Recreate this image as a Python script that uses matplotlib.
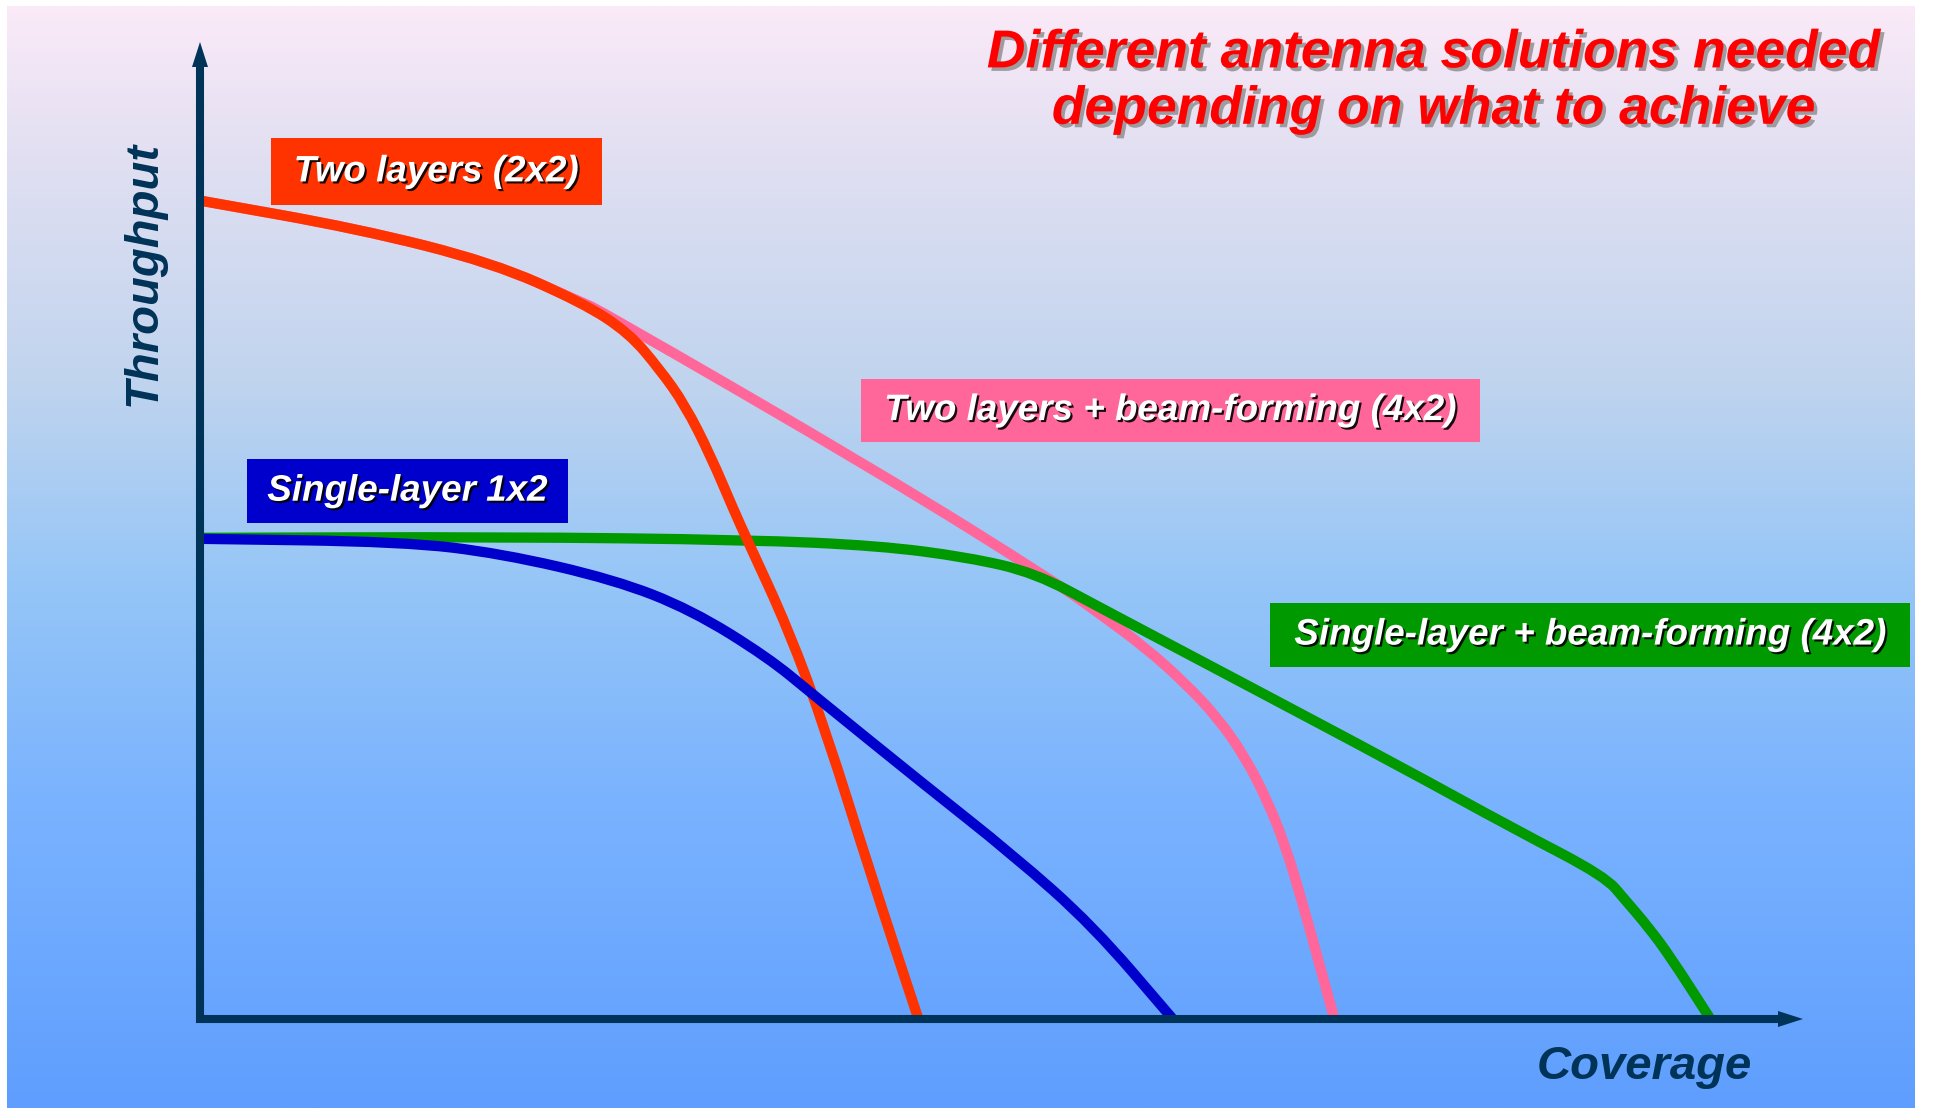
import numpy as np
import matplotlib
matplotlib.use("Agg")
import matplotlib.pyplot as plt
import matplotlib.patheffects as pe
from matplotlib.path import Path
from matplotlib.patches import PathPatch, Rectangle
from matplotlib.colors import to_rgb

# ---- data (coverage 0-100, throughput 0-100) ----
cov_two_layers = [0, 9.9, 18.3, 23.9, 26.8, 28.75, 30.3, 31.9, 33.4, 34.2, 36.8, 39.1, 41.9, 44.9]
thr_two_layers = [84.2, 81.3, 77.8, 73.7, 70.6, 66.8, 63.2, 58.0, 52.2, 49.3, 40.0, 29.7, 15.0, 0]

cov_two_layers_bf = [0, 9.9, 18.3, 23.9, 25.0, 42.5, 53.6, 56.3, 59.1, 61.6, 63.6, 65.3, 66.7, 67.8, 68.9, 69.9, 70.9]
thr_two_layers_bf = [84.2, 81.3, 77.8, 73.7, 72.9, 56.2, 44.8, 41.6, 38.2, 34.5, 31.0, 27.0, 22.5, 18.0, 12.0, 6.0, 0]

cov_single = [0, 12.7, 18.8, 25.9, 30.7, 35.5, 38.3, 45.2, 50.8, 55.8, 60.8]
thr_single = [49.4, 49.1, 47.9, 45.2, 42.1, 37.2, 33.4, 24.2, 16.9, 9.6, 0]

cov_single_bf = [0, 18.8, 34.3, 42.4, 48.0, 52.2, 56.4, 64.8, 75.0, 82.2, 87.8, 89.1, 90.5, 91.9, 94.4]
thr_single_bf = [49.5, 49.6, 49.3, 48.7, 47.5, 45.9, 42.2, 34.9, 26.0, 19.5, 14.7, 12.2, 9.5, 6.4, 0]

series_labels = ["Two layers (2x2)", "Two layers + beam-forming (4x2)",
                 "Single-layer 1x2", "Single-layer + beam-forming (4x2)"]
series_colors = ["#FF3300", "#FF6699", "#0000CC", "#009900"]

title_lines = ["Different antenna solutions needed", "depending on what to achieve"]

NAVY = "#003358"
FONT = "Liberation Sans"

# pixel scale of one data unit (figure is 1935x1108 px, origin at px (200, 1019))
PX_X, PX_Y = 16.0, 9.72
X0, Y0 = 200, 1019


def smooth_path(xs, ys):
    pts = np.column_stack([xs, ys]).astype(float)
    verts = [pts[0], (pts[0] + pts[1]) / 2]
    codes = [Path.MOVETO, Path.LINETO]
    for i in range(1, len(pts) - 1):
        verts += [pts[i], (pts[i] + pts[i + 1]) / 2]
        codes += [Path.CURVE3, Path.CURVE3]
    verts.append(pts[-1])
    codes.append(Path.LINETO)
    return Path(verts, codes)


fig = plt.figure(figsize=(19.35, 11.08), dpi=100, facecolor="white")
ax = fig.add_axes([0, 0, 1, 1])
ax.set_xlim(-X0 / PX_X, (1935 - X0) / PX_X)
ax.set_ylim((Y0 - 1108) / PX_Y, Y0 / PX_Y)
ax.axis("off")

# background gradient
stops_pos = [0.0, 0.13, 0.34, 0.52, 0.72, 1.0]
stops_col = ["#FBEAF8", "#E2E0F2", "#C0D4EE", "#96C6F7", "#7AB3FE", "#5F9EFF"]
t = np.linspace(0, 1, 400)
rgb = np.array([to_rgb(c) for c in stops_col])
grad = np.stack([np.interp(t, stops_pos, rgb[:, k]) for k in range(3)], axis=1)[:, None, :]
ax.imshow(grad, extent=[(7 - X0) / PX_X, (1915 - X0) / PX_X, (Y0 - 1108) / PX_Y, (Y0 - 6) / PX_Y],
          aspect="auto", zorder=0, interpolation="bilinear")

# curves
curves = [(cov_two_layers_bf, thr_two_layers_bf, series_colors[1], 2),
          (cov_single_bf, thr_single_bf, series_colors[3], 3),
          (cov_two_layers, thr_two_layers, series_colors[0], 4),
          (cov_single, thr_single, series_colors[2], 5)]
for xs, ys, col, z in curves:
    ax.add_patch(PathPatch(smooth_path(xs, ys), fill=False, edgecolor=col, lw=7.4,
                           capstyle="butt", joinstyle="round", zorder=z))

# axes with arrows
y_top = (Y0 - 67) / PX_Y
x_right = (1778 - X0) / PX_X
ax.plot([0, 0, x_right], [y_top, 0, 0], color=NAVY, lw=5.8,
        solid_joinstyle="miter", solid_capstyle="butt", zorder=10)
ax.fill([-8 / PX_X, 8 / PX_X, 0], [y_top, y_top, (Y0 - 42) / PX_Y], color=NAVY, zorder=10, lw=0)
ax.fill([x_right, x_right, (1803 - X0) / PX_X], [8 / PX_Y, -8 / PX_Y, 0], color=NAVY, zorder=10, lw=0)

# axis titles
ax.text(-3.5, 76.7, "Throughput", rotation=90, ha="center", va="center", color=NAVY,
        fontsize=34, fontweight="bold", fontstyle="italic", family=FONT, zorder=11)
ax.text(90.3, -4.9, "Coverage", ha="center", va="center", color=NAVY,
        fontsize=34, fontweight="bold", fontstyle="italic", family=FONT, zorder=11)

# title
title_fx = [pe.SimplePatchShadow(offset=(2.5, -2.5), shadow_rgbFace="#8a8a8a", alpha=0.8), pe.Normal()]
for line, yb in zip(title_lines, [97.9, 92.1]):
    ax.text(77.1, yb, line, ha="center", va="baseline", color="#FF0000", fontsize=38.5,
            fontweight="bold", fontstyle="italic", family=FONT, path_effects=title_fx, zorder=12)

# label boxes (x0, x1, y0, y1 in data units)
boxes = [(4.44, 25.1, 83.7, 90.6), (41.3, 80.0, 59.4, 65.8),
         (2.94, 23.0, 51.0, 57.6), (66.9, 106.9, 36.2, 42.8)]
label_fx = [pe.SimplePatchShadow(offset=(1.5, -1.5), shadow_rgbFace="black", alpha=0.9), pe.Normal()]
for (bx0, bx1, by0, by1), lab, col in zip(boxes, series_labels, series_colors):
    ax.add_patch(Rectangle((bx0, by0), bx1 - bx0, by1 - by0, facecolor=col, edgecolor="none", zorder=8))
    ax.text((bx0 + bx1) / 2, (by0 + by1) / 2, lab, ha="center", va="center", color="white",
            fontsize=26.5, fontweight="bold", fontstyle="italic", family=FONT,
            path_effects=label_fx, zorder=9)

fig.savefig("out.png", dpi=100, facecolor="white")
